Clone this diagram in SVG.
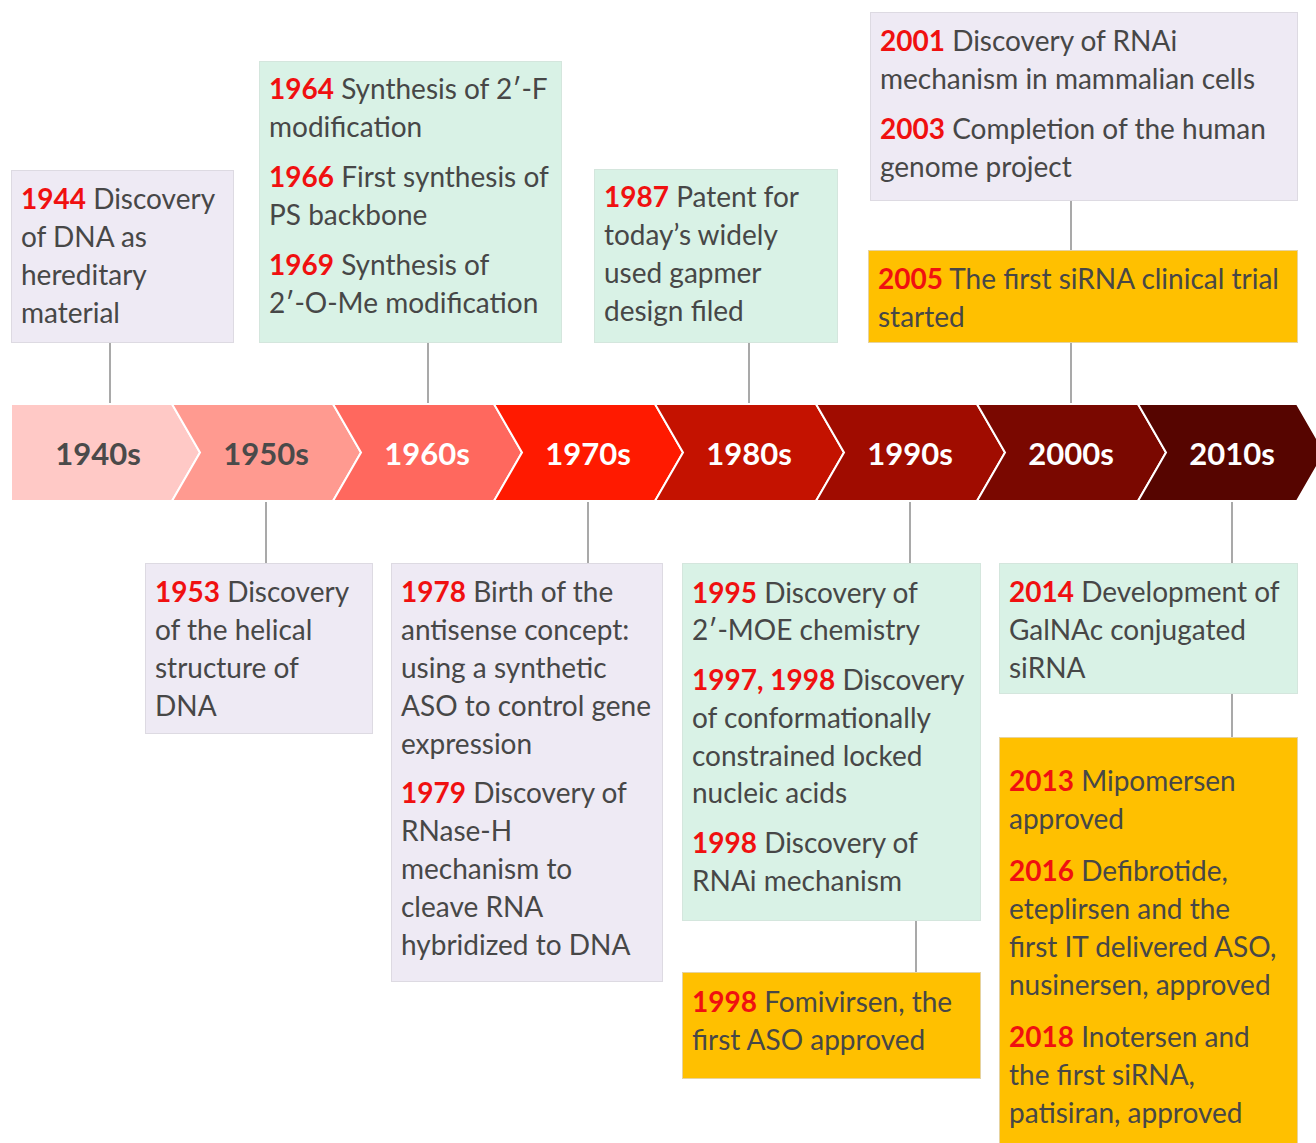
<svg xmlns="http://www.w3.org/2000/svg" width="1316" height="1143" viewBox="0 0 1316 1143">
<style>
text{font-family:Lato,"Open Sans","Liberation Sans",sans-serif;font-size:28px;fill:#474747}
.y{fill:#F01010;font-weight:bold}
.lav{fill:#EEEAF4;stroke:#DDDAE2;stroke-width:1}
.mint{fill:#D9F2E6;stroke:#D4E6DD;stroke-width:1}
.gold{fill:#FFC000;stroke:#E6D3A0;stroke-width:1}
.conn line{stroke:#8C8C8C;stroke-width:1.5}
.chev{stroke:#FFFFFF;stroke-width:2}
.lbl{font-size:31px;font-weight:bold;text-anchor:middle;fill:#FFFFFF}
.dk{fill:#4A4A4A}
</style>
<rect width="1316" height="1143" fill="#FFFFFF"/>
<g id="connectors" class="conn">
<line x1="110" y1="342" x2="110" y2="404"/>
<line x1="428" y1="342" x2="428" y2="404"/>
<line x1="749" y1="342" x2="749" y2="404"/>
<line x1="1071" y1="200" x2="1071" y2="250"/>
<line x1="1071" y1="342" x2="1071" y2="404"/>
<line x1="266" y1="501" x2="266" y2="563"/>
<line x1="588" y1="501" x2="588" y2="563"/>
<line x1="910" y1="501" x2="910" y2="563"/>
<line x1="916" y1="920" x2="916" y2="972"/>
<line x1="1232" y1="501" x2="1232" y2="563"/>
<line x1="1232" y1="693" x2="1232" y2="737"/>
</g>
<g id="timeline">
<g id="d1940"><path class="chev" d="M11,404 H172 L200,452.5 L172,501 H11 Z" fill="#FFC9C6"/><text class="lbl dk" x="98" y="465">1940s</text></g>
<g id="d1950"><path class="chev" d="M172,404 H333 L361,452.5 L333,501 H172 L200,452.5 Z" fill="#FF9A90"/><text class="lbl dk" x="266" y="465">1950s</text></g>
<g id="d1960"><path class="chev" d="M333,404 H494 L522,452.5 L494,501 H333 L361,452.5 Z" fill="#FF685E"/><text class="lbl" x="427" y="465">1960s</text></g>
<g id="d1970"><path class="chev" d="M494,404 H655 L683,452.5 L655,501 H494 L522,452.5 Z" fill="#FF1A00"/><text class="lbl" x="588" y="465">1970s</text></g>
<g id="d1980"><path class="chev" d="M655,404 H816 L844,452.5 L816,501 H655 L683,452.5 Z" fill="#C41200"/><text class="lbl" x="749" y="465">1980s</text></g>
<g id="d1990"><path class="chev" d="M816,404 H977 L1005,452.5 L977,501 H816 L844,452.5 Z" fill="#A00C00"/><text class="lbl" x="910" y="465">1990s</text></g>
<g id="d2000"><path class="chev" d="M977,404 H1138 L1166,452.5 L1138,501 H977 L1005,452.5 Z" fill="#7A0800"/><text class="lbl" x="1071" y="465">2000s</text></g>
<g id="d2010"><path class="chev" d="M1138,404 H1297 L1325,452.5 L1297,501 H1138 L1166,452.5 Z" fill="#560500"/><text class="lbl" x="1232" y="465">2010s</text></g>
</g>
<g id="n1944"><rect class="lav" x="11.5" y="170.5" width="222" height="172"/>
<text x="21" y="209"><tspan class="y">1944</tspan> Discovery</text>
<text x="21" y="247">of DNA as</text>
<text x="21" y="285">hereditary</text>
<text x="21" y="323">material</text></g>
<g id="n1964"><rect class="mint" x="259.5" y="61.5" width="302" height="281"/>
<text x="269" y="99"><tspan class="y">1964</tspan> Synthesis of 2′-F</text>
<text x="269" y="137">modification</text>
<text x="269" y="187"><tspan class="y">1966</tspan> First synthesis of</text>
<text x="269" y="225">PS backbone</text>
<text x="269" y="275"><tspan class="y">1969</tspan> Synthesis of</text>
<text x="269" y="313">2′-O-Me modification</text></g>
<g id="n1987"><rect class="mint" x="594.5" y="169.5" width="243" height="173"/>
<text x="604" y="207"><tspan class="y">1987</tspan> Patent for</text>
<text x="604" y="245">today’s widely</text>
<text x="604" y="283">used gapmer</text>
<text x="604" y="321">design filed</text></g>
<g id="n2001"><rect class="lav" x="870.5" y="12.5" width="427" height="188"/>
<text x="880" y="51"><tspan class="y">2001</tspan> Discovery of RNAi</text>
<text x="880" y="89">mechanism in mammalian cells</text>
<text x="880" y="139"><tspan class="y">2003</tspan> Completion of the human</text>
<text x="880" y="177">genome project</text></g>
<g id="n2005"><rect class="gold" x="868.5" y="250.5" width="429" height="92"/>
<text x="878" y="289"><tspan class="y">2005</tspan> The first siRNA clinical trial</text>
<text x="878" y="327">started</text></g>
<g id="n1953"><rect class="lav" x="145.5" y="563.5" width="227" height="170"/>
<text x="155" y="602"><tspan class="y">1953</tspan> Discovery</text>
<text x="155" y="640">of the helical</text>
<text x="155" y="678">structure of</text>
<text x="155" y="716">DNA</text></g>
<g id="n1978"><rect class="lav" x="391.5" y="563.5" width="271" height="418"/>
<text x="401" y="602"><tspan class="y">1978</tspan> Birth of the</text>
<text x="401" y="640">antisense concept:</text>
<text x="401" y="678">using a synthetic</text>
<text x="401" y="716">ASO to control gene</text>
<text x="401" y="754">expression</text>
<text x="401" y="803"><tspan class="y">1979</tspan> Discovery of</text>
<text x="401" y="841">RNase-H</text>
<text x="401" y="879">mechanism to</text>
<text x="401" y="917">cleave RNA</text>
<text x="401" y="955">hybridized to DNA</text></g>
<g id="n1995"><rect class="mint" x="682.5" y="563.5" width="298" height="357"/>
<text x="692" y="603"><tspan class="y">1995</tspan> Discovery of</text>
<text x="692" y="640">2′-MOE chemistry</text>
<text x="692" y="690"><tspan class="y">1997, 1998</tspan> Discovery</text>
<text x="692" y="728">of conformationally</text>
<text x="692" y="766">constrained locked</text>
<text x="692" y="803">nucleic acids</text>
<text x="692" y="853"><tspan class="y">1998</tspan> Discovery of</text>
<text x="692" y="891">RNAi mechanism</text></g>
<g id="n1998f"><rect class="gold" x="682.5" y="972.5" width="298" height="106"/>
<text x="692" y="1012"><tspan class="y">1998</tspan> Fomivirsen, the</text>
<text x="692" y="1050">first ASO approved</text></g>
<g id="n2014"><rect class="mint" x="999.5" y="563.5" width="298" height="130"/>
<text x="1009" y="602"><tspan class="y">2014</tspan> Development of</text>
<text x="1009" y="640">GalNAc conjugated</text>
<text x="1009" y="678">siRNA</text></g>
<g id="n2013"><rect class="gold" x="999.5" y="737.5" width="298" height="410"/>
<text x="1009" y="791"><tspan class="y">2013</tspan> Mipomersen</text>
<text x="1009" y="829">approved</text>
<text x="1009" y="881"><tspan class="y">2016</tspan> Defibrotide,</text>
<text x="1009" y="919">eteplirsen and the</text>
<text x="1009" y="957">first IT delivered ASO,</text>
<text x="1009" y="995">nusinersen, approved</text>
<text x="1009" y="1047"><tspan class="y">2018</tspan> Inotersen and</text>
<text x="1009" y="1085">the first siRNA,</text>
<text x="1009" y="1123">patisiran, approved</text></g>
</svg>
